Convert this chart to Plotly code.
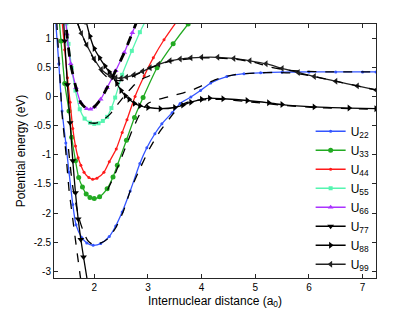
import plotly.graph_objects as go

# ---- data ----
x22 = [1.28, 1.34, 1.40, 1.47, 1.53, 1.60, 1.66, 1.77, 1.86, 1.98, 2.12, 2.28, 2.40, 2.52, 2.67, 2.85, 2.98, 3.13, 3.26, 3.45, 3.60, 3.80, 3.98, 4.17, 4.47, 4.79, 5.10, 5.50, 6.00, 6.50, 7.00, 7.25]
y22 = [1.30, 0.56, -0.25, -0.80, -1.30, -1.85, -2.20, -2.42, -2.51, -2.55, -2.52, -2.40, -2.22, -1.98, -1.62, -1.15, -0.88, -0.64, -0.47, -0.28, -0.12, -0.01, 0.10, 0.23, 0.34, 0.39, 0.405, 0.415, 0.42, 0.42, 0.42, 0.42]

x33 = [1.34, 1.38, 1.45, 1.53, 1.58, 1.65, 1.71, 1.78, 1.85, 1.92, 2.00, 2.10, 2.24, 2.35, 2.43, 2.60, 2.75, 2.91, 3.17, 3.47, 3.75, 3.85]
y33 = [1.40, 0.95, 0.22, -0.25, -0.70, -1.10, -1.39, -1.55, -1.67, -1.73, -1.75, -1.72, -1.58, -1.38, -1.18, -0.75, -0.36, -0.02, 0.49, 0.90, 1.24, 1.35]

x44 = [1.40, 1.45, 1.50, 1.55, 1.60, 1.65, 1.70, 1.75, 1.81, 1.90, 1.97, 2.05, 2.18, 2.28, 2.41, 2.52, 2.61, 2.76, 2.93, 3.10, 3.30, 3.55]
y44 = [1.30, 0.80, 0.32, -0.10, -0.55, -0.85, -1.05, -1.18, -1.30, -1.39, -1.42, -1.40, -1.30, -1.12, -0.90, -0.62, -0.40, 0.00, 0.35, 0.66, 0.97, 1.30]

x55 = [1.46, 1.48, 1.52, 1.58, 1.65, 1.73, 1.82, 1.92, 2.00, 2.08, 2.16, 2.24, 2.32, 2.39, 2.52, 2.70, 2.85, 2.96]
y55 = [1.50, 1.25, 0.90, 0.49, 0.10, -0.22, -0.38, -0.45, -0.47, -0.46, -0.42, -0.35, -0.20, -0.02, 0.37, 0.78, 1.10, 1.30]

x66 = [1.46, 1.49, 1.56, 1.66, 1.75, 1.86, 1.93, 2.00, 2.12, 2.24, 2.40, 2.56, 2.71, 2.80]
y66 = [1.45, 1.07, 0.56, 0.15, -0.11, -0.21, -0.22, -0.18, -0.05, 0.15, 0.44, 0.75, 1.09, 1.30]

x77 = [1.42, 1.45, 1.50, 1.55, 1.60, 1.65, 1.70, 1.75, 1.80, 1.87]
y77 = [1.45, 0.95, 0.20, -0.45, -1.10, -1.65, -2.10, -2.45, -2.75, -3.15]

x88 = [1.82, 1.85, 1.92, 2.00, 2.10, 2.20, 2.28, 2.35, 2.42, 2.50, 2.58, 2.65, 2.75, 2.85, 3.00, 3.23, 3.50, 3.65, 3.80, 4.00, 4.15, 4.40, 4.85, 5.25, 5.50, 6.10, 6.75, 7.25]
y88 = [1.40, 1.28, 1.03, 0.82, 0.66, 0.52, 0.42, 0.33, 0.22, 0.10, 0.01, -0.05, -0.12, -0.16, -0.19, -0.21, -0.19, -0.15, -0.10, -0.05, -0.03, -0.04, -0.07, -0.11, -0.14, -0.18, -0.20, -0.21]

x99 = [1.66, 1.68, 1.76, 1.86, 2.00, 2.13, 2.30, 2.40, 2.50, 2.60, 2.74, 2.90, 3.04, 3.20, 3.41, 3.60, 3.80, 4.00, 4.30, 4.60, 4.90, 5.20, 5.50, 5.80, 6.10, 6.50, 6.90, 7.25]
y99 = [1.40, 1.28, 1.08, 0.88, 0.64, 0.46, 0.35, 0.32, 0.31, 0.33, 0.37, 0.43, 0.49, 0.55, 0.61, 0.64, 0.66, 0.67, 0.67, 0.65, 0.61, 0.56, 0.48, 0.41, 0.34, 0.26, 0.18, 0.11]

# dashed reference curves
xd1 = [1.30, 1.35, 1.40, 1.47, 1.53, 1.60, 1.67, 1.75]
yd1 = [1.30, 0.50, -0.30, -0.95, -1.60, -2.10, -2.60, -3.15]

xd2 = [1.52, 1.56, 1.60, 1.66, 1.72, 1.80, 1.88, 1.98, 2.10, 2.25, 2.40, 2.55, 2.67, 2.85, 3.04, 3.23, 3.47, 3.60, 3.80, 4.00, 4.35, 4.85, 5.50, 6.10, 7.25]
yd2 = [-0.90, -1.25, -1.55, -1.85, -2.10, -2.32, -2.47, -2.54, -2.52, -2.44, -2.25, -1.95, -1.62, -1.24, -0.88, -0.59, -0.30, -0.16, -0.08, -0.06, -0.05, -0.09, -0.15, -0.19, -0.22]

xd3 = [2.25, 2.40, 2.55, 2.70, 2.85, 3.00, 3.20, 3.50, 3.80, 4.00, 4.30, 4.60, 5.00, 5.40, 5.70, 6.00, 6.50, 7.25]
yd3 = [-1.60, -1.30, -0.95, -0.60, -0.30, -0.12, -0.05, 0.02, 0.10, 0.18, 0.30, 0.37, 0.40, 0.41, 0.40, 0.36, 0.26, 0.11]

xd4 = [1.90, 2.00, 2.10, 2.20, 2.30, 2.45, 2.60, 2.75, 2.90, 3.10]
yd4 = [-0.45, -0.46, -0.44, -0.38, -0.30, -0.12, 0.05, 0.20, 0.30, 0.38]

xd5 = [1.68, 1.76, 1.86, 2.00, 2.13, 2.25, 2.35, 2.45, 2.55, 2.65, 2.80, 3.00, 3.40, 4.00, 4.60, 5.00, 5.30, 5.60, 5.90, 6.30, 7.25]
yd5 = [1.28, 1.08, 0.87, 0.62, 0.43, 0.32, 0.28, 0.27, 0.28, 0.31, 0.38, 0.47, 0.60, 0.66, 0.64, 0.58, 0.50, 0.45, 0.43, 0.42, 0.42]

xd6 = [1.46, 1.49, 1.56, 1.66, 1.75, 1.86, 1.93, 2.00, 2.12, 2.24, 2.40, 2.56, 2.71, 2.80]
yd6 = [1.45, 1.07, 0.56, 0.15, -0.11, -0.21, -0.22, -0.18, -0.05, 0.15, 0.44, 0.75, 1.09, 1.30]

xticks = [2, 3, 4, 5, 6, 7]
yticks = [1, 0.5, 0, -0.5, -1, -1.5, -2, -2.5, -3]
yticktext = ["1", "0.5", "0", "-0.5", "-1", "-1.5", "-2", "-2.5", "-3"]

series = [
    ("U<sub>22</sub>", x22, y22, "#3355ff", "circle", 3),
    ("U<sub>33</sub>", x33, y33, "#22aa22", "circle", 5),
    ("U<sub>44</sub>", x44, y44, "#ff1a1a", "circle", 3),
    ("U<sub>55</sub>", x55, y55, "#55f5b0", "square", 4),
    ("U<sub>66</sub>", x66, y66, "#aa33ff", "triangle-up", 5),
    ("U<sub>77</sub>", x77, y77, "#000000", "triangle-down", 6),
    ("U<sub>88</sub>", x88, y88, "#000000", "triangle-right", 6),
    ("U<sub>99</sub>", x99, y99, "#222222", "triangle-left", 6),
]

fig = go.Figure()
for name, xs, ys, col, sym, sz in series:
    fig.add_trace(go.Scatter(x=xs, y=ys, mode="lines+markers", name=name,
                             line=dict(color=col, width=1.3, shape="spline", smoothing=0.6),
                             marker=dict(color=col, symbol=sym, size=sz)))

for xs, ys, w in [(xd1, yd1, 1.3), (xd2, yd2, 1.3), (xd3, yd3, 1.3), (xd4, yd4, 1.3),
                  (xd5, yd5, 1.3), (xd6, yd6, 2.8)]:
    fig.add_trace(go.Scatter(x=xs, y=ys, mode="lines", showlegend=False, hoverinfo="skip",
                             line=dict(color="black", width=w, dash="dash", shape="spline", smoothing=0.6)))

axis_common = dict(showline=True, linecolor="#262626", linewidth=1, mirror="ticks",
                   ticks="inside", ticklen=4, tickcolor="#262626", showgrid=False,
                   zeroline=False, automargin=False,
                   tickfont=dict(family="Liberation Sans, Arial", size=10, color="black"))

fig.update_layout(
    width=415, height=313,
    margin=dict(l=54, r=39, t=24, b=35, autoexpand=False),
    paper_bgcolor="white", plot_bgcolor="white",
    font=dict(family="Liberation Sans, Arial", size=12, color="black"),
    xaxis=dict(range=[1.25, 7.25], tickvals=xticks,
               title=dict(text="Internuclear distance (a<sub>0</sub>)", standoff=4, font=dict(size=12)),
               **axis_common),
    yaxis=dict(range=[-3.11, 1.24], tickvals=yticks, ticktext=yticktext,
               title=dict(text="Potential energy (eV)", standoff=5, font=dict(size=12)),
               **axis_common),
    legend=dict(x=0.797, xanchor="left", y=0.316, yanchor="middle", bgcolor="rgba(0,0,0,0)",
                font=dict(size=12), borderwidth=0),
    showlegend=True,
)

fig.write_html("out.html", config={"displayModeBar": False},
               post_script="document.body.style.margin='0';document.body.style.padding='0';")
